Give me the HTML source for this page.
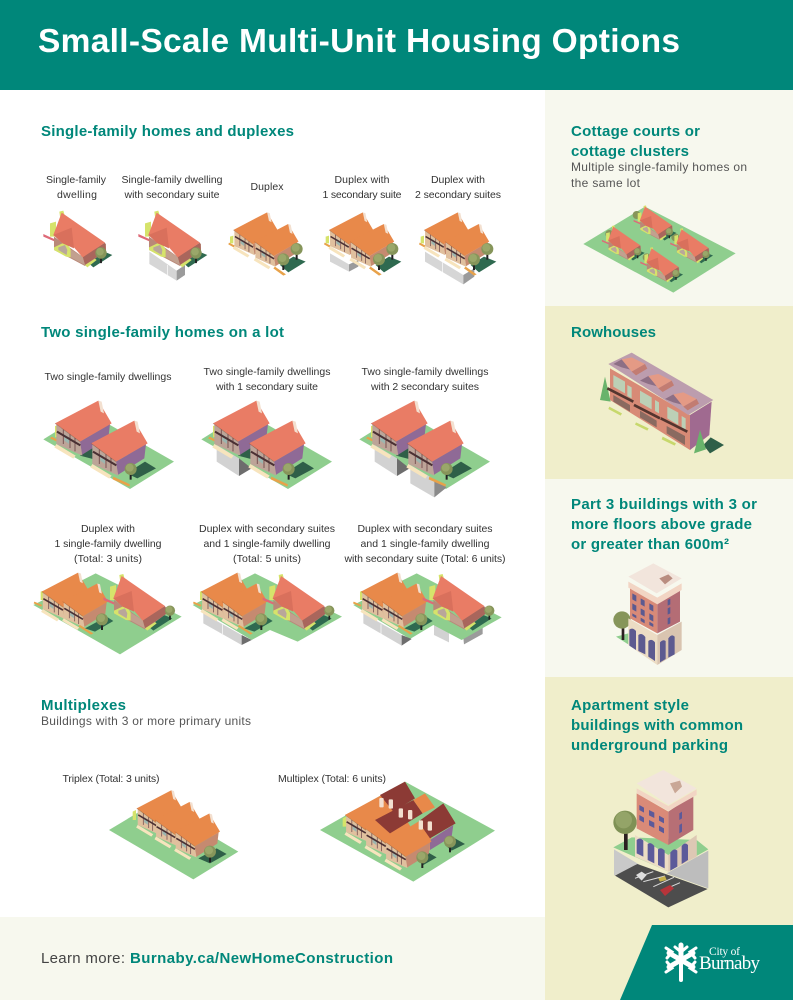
<!DOCTYPE html>
<html lang="en"><head><meta charset="utf-8"><title>Small-Scale Multi-Unit Housing Options</title>
<style>
html,body{margin:0;padding:0;background:#fff}
svg{display:block}
text{font-family:"Liberation Sans",sans-serif}
.l{font-size:10.5px;fill:#333;text-anchor:middle}
.h{font-size:15px;font-weight:700;fill:#00877a}
.s{font-size:12px;fill:#555}
.pk{--r:#e97c65;--w:#8f6a96;--g:#bda498}
.or{--r:#e8894a;--w:#c58a70;--g:#e0c09e}
</style></head><body>
<svg width="793" height="1000" viewBox="0 0 793 1000" xmlns="http://www.w3.org/2000/svg">
<defs>
<g id="t"><rect x="-3" y="0" width="6" height="32" fill="#222"/><circle r="18" fill="#86955a"/><circle cx="-3" cy="-4" r="12" fill="#9aa76a"/></g>
<g id="u">
<polygon points="75,55 165,2 160,45 80,95" fill="var(--w)"/>
<polygon points="4,3 75,55 82,97 4,62" fill="var(--g)"/>
<polygon points="28,32 42,42 42,62 28,52" fill="#9cb6b0"/>
<path d="M25 18V62M45 32V74M60 43V84" stroke="#7a5555" stroke-width="3" fill="none"/>
<path d="M6 25L76 66" stroke="#4a3033" stroke-width="6" fill="none"/>
<polygon points="4,62 62,97 55,106 -2,72" fill="#f7e4bd"/>
<polygon points="0,0 130,-68 170,0 75,55" fill="var(--r)"/>
<path d="M0 0L75 55" stroke="#000" stroke-opacity=".18" stroke-width="2.5"/>
<polygon points="130,-68 140,-65 147,-30 137,-35" fill="#f3e0d0"/>
</g>
<g id="sf">
<polygon points="165,300 215,272 247,285 190,322" fill="#2f6a50"/>
<polygon points="40,222 75,238 75,245 40,230" fill="#de6a78"/>
<polygon points="60,190 78,185 78,230 60,230" fill="#d6e36b"/>
<polygon points="88,155 100,152 105,170 90,170" fill="#d6e36b"/>
<polygon points="72,230 158,290 228,250 228,272 165,318 122,295 72,270" fill="#b98878"/>
<polygon points="158,290 225,248 228,272 165,315" fill="#a9665c"/>
<polygon points="122,268 158,290 165,315 122,292" fill="#c2a08f"/>
<polygon points="72,262 108,245 122,268 122,292 108,290 72,270" fill="#d6e36b"/>
<polygon points="85,262 105,255 112,270 110,285 85,270" fill="#b9a79a"/>
<polygon points="165,315 195,296 200,300 172,322" fill="#d6e36b"/>
<polygon points="95,158 225,248 158,292 132,262 98,250 70,225" fill="#e97c65"/>
<polygon points="125,203 70,225 98,250 132,265" fill="#d9705c"/>
</g>
<g id="sft"><use href="#sf"/><use href="#t" transform="translate(213 279)"/></g>
<g id="d" class="or">
<polygon points="15,95 25,92 25,115 15,115" fill="#d6e36b"/>
<polygon points="12,113 30,122 26,127 10,118" fill="#e8a24a"/>
<use href="#u" transform="translate(25 75) scale(.78)"/>
<use href="#u" transform="translate(88 110) scale(.78)"/>
<polygon points="150,185 183,208 175,212 145,190" fill="#e8a24a"/>
</g>
<g id="dt">
<polygon points="165,180 205,155 242,170 190,202" fill="#2f6a50"/>
<use href="#d"/>
<use href="#t" transform="translate(175 163)"/>
<use href="#t" transform="translate(215 132)"/>
</g>
<g id="two" class="pk">
<polygon points="150,197 225,150 200,210" fill="#2f5f48"/>
<polygon points="345,215 378,235 322,265 290,250" fill="#2f5f48"/>
<polygon points="75,108 85,105 85,140 75,142" fill="#d6e36b"/>
<polygon points="65,140 85,150 80,155 60,145" fill="#e8a24a"/>
<use href="#u" transform="translate(75 100)"/>
<polygon points="250,260 300,283 298,290 248,268" fill="#e8a24a"/>
<use href="#u" transform="translate(183 160)"/>
<use href="#t" transform="translate(302 237)"/>
</g>
<polygon id="lot" points="40,148 172,66 432,215 300,297" fill="#8fce8e"/>
<g id="r3h">
<polygon points="180,205 245,170 265,183 210,215" fill="#2f6a50"/>
<g class="or">
<polygon points="47,95 57,92 57,120 47,120" fill="#d6e36b"/>
<polygon points="28,125 52,135 48,140 26,130" fill="#e8a24a"/>
<use href="#u" transform="translate(50 95) scale(.84)"/>
<use href="#u" transform="translate(113 125) scale(.8)"/>
<polygon points="165,195 205,220 198,224 160,199" fill="#e8a24a"/>
</g>
<use href="#sf" transform="translate(195 -110)"/>
<use href="#t" transform="translate(231 178)"/>
<use href="#t" transform="translate(435 152) scale(.85)"/>
</g>
</defs>

<!-- backgrounds -->
<rect width="793" height="1000" fill="#fff"/>
<rect width="793" height="90" fill="#00877a"/>
<rect x="545" y="90" width="248" height="216" fill="#f7f8ee"/>
<rect x="545" y="306" width="248" height="173" fill="#f0eecb"/>
<rect x="545" y="479" width="248" height="198" fill="#f7f8ee"/>
<rect x="545" y="677" width="248" height="323" fill="#f0eecb"/>
<rect x="0" y="917" width="545" height="83" fill="#f7f8ee"/>
<polygon points="652,925 793,925 793,1000 620,1000" fill="#00877a"/>

<!-- titles -->
<text x="38" y="52" font-size="33.5" font-weight="700" fill="#fff" textLength="642">Small-Scale Multi-Unit Housing Options</text>
<text class="h" x="41" y="136" textLength="253">Single-family homes and duplexes</text>
<text class="h" x="41" y="337" textLength="243">Two single-family homes on a lot</text>
<text class="h" x="41" y="710" textLength="85">Multiplexes</text>
<text class="s" x="41" y="725" textLength="210">Buildings with 3 or more primary units</text>
<text class="h" x="571" y="136" textLength="129">Cottage courts or</text>
<text class="h" x="571" y="156" textLength="118">cottage clusters</text>
<text class="s" x="571" y="171" textLength="176">Multiple single-family homes on</text>
<text class="s" x="571" y="187" textLength="69">the same lot</text>
<text class="h" x="571" y="337" textLength="85">Rowhouses</text>
<text class="h" x="571" y="509" textLength="186">Part 3 buildings with 3 or</text>
<text class="h" x="571" y="529" textLength="181">more floors above grade</text>
<text class="h" x="571" y="549" textLength="158">or greater than 600m²</text>
<text class="h" x="571" y="710" textLength="118">Apartment style</text>
<text class="h" x="571" y="730" textLength="172">buildings with common</text>
<text class="h" x="571" y="750" textLength="157">underground parking</text>
<text x="41" y="963" font-size="15" fill="#444" textLength="84">Learn more:</text>
<text x="130" y="963" font-size="15" font-weight="700" fill="#00877a" textLength="263">Burnaby.ca/NewHomeConstruction</text>

<!-- labels -->
<text class="l" x="76" y="183" textLength="60">Single-family</text>
<text class="l" x="77" y="198" textLength="40">dwelling</text>
<text class="l" x="172" y="183" textLength="101">Single-family dwelling</text>
<text class="l" x="172" y="198" textLength="95">with secondary suite</text>
<text class="l" x="267" y="190" textLength="33">Duplex</text>
<text class="l" x="362" y="183" textLength="55">Duplex with</text>
<text class="l" x="362" y="198" textLength="79">1 secondary suite</text>
<text class="l" x="458" y="183" textLength="54">Duplex with</text>
<text class="l" x="458" y="198" textLength="86">2 secondary suites</text>
<text class="l" x="108" y="380" textLength="127">Two single-family dwellings</text>
<text class="l" x="267" y="375" textLength="127">Two single-family dwellings</text>
<text class="l" x="267" y="390" textLength="102">with 1 secondary suite</text>
<text class="l" x="425" y="375" textLength="127">Two single-family dwellings</text>
<text class="l" x="425" y="390" textLength="108">with 2 secondary suites</text>
<text class="l" x="108" y="532" textLength="54">Duplex with</text>
<text class="l" x="108" y="547" textLength="107">1 single-family dwelling</text>
<text class="l" x="108" y="562" textLength="68">(Total: 3 units)</text>
<text class="l" x="267" y="532" textLength="136">Duplex with secondary suites</text>
<text class="l" x="267" y="547" textLength="127">and 1 single-family dwelling</text>
<text class="l" x="267" y="562" textLength="68">(Total: 5 units)</text>
<text class="l" x="425" y="532" textLength="135">Duplex with secondary suites</text>
<text class="l" x="425" y="547" textLength="129">and 1 single-family dwelling</text>
<text class="l" x="425" y="562" textLength="161">with secondary suite (Total: 6 units)</text>
<text class="l" x="111" y="782" textLength="97">Triplex (Total: 3 units)</text>
<text class="l" x="332" y="782" textLength="108">Multiplex (Total: 6 units)</text>

<!-- row 1 -->
<g transform="translate(30 160) scale(.3333)"><use href="#sf"/><use href="#t" transform="translate(213 279) scale(.95)"/></g>
<g transform="translate(125 160) scale(.3333)">
<polygon points="73,275 155,332 155,362 73,312" fill="#d6d6d6"/>
<polygon points="155,332 180,315 180,345 155,362" fill="#9b9b9b"/>
<path d="M127 315V350" stroke="#fff" stroke-width="2"/>
<use href="#sf"/><use href="#t" transform="translate(213 279) scale(.95)"/>
</g>
<g transform="translate(225 205) scale(.3333)"><use href="#dt"/></g>
<g transform="translate(320.67 205) scale(.3333)">
<polygon points="28,145 85,178 85,200 28,170" fill="#d6d6d6"/>
<polygon points="85,178 113,165 113,185 85,200" fill="#9b9b9b"/>
<use href="#dt"/>
</g>
<g transform="translate(415.67 205) scale(.3333)">
<polygon points="28,140 143,210 143,238 28,170" fill="#d6d6d6"/>
<polygon points="143,210 176,190 176,215 143,238" fill="#9b9b9b"/>
<path d="M81 172V205" stroke="#fff" stroke-width="2"/>
<use href="#dt"/>
</g>

<!-- row 2 -->
<g transform="translate(30 390) scale(.3333)"><use href="#lot"/><use href="#two"/></g>
<g transform="translate(188 390) scale(.3333)">
<use href="#lot"/>
<polygon points="86,165 153,205 153,258 86,215" fill="#d2d2d2"/>
<polygon points="153,205 191,235 153,258" fill="#6d6d6d"/>
<use href="#two"/>
</g>
<g transform="translate(346 390) scale(.3333)">
<use href="#lot"/>
<polygon points="86,165 153,205 153,258 86,215" fill="#d2d2d2"/>
<polygon points="153,205 191,235 153,258" fill="#6d6d6d"/>
<polygon points="193,225 265,268 265,322 193,280" fill="#d2d2d2"/>
<polygon points="265,268 302,292 265,322" fill="#8a8a8a"/>
<use href="#two"/>
</g>

<!-- row 3 -->
<g transform="translate(25 560) scale(.3333)">
<polygon points="25,135 212,40 470,170 285,283" fill="#8fce8e"/>
<use href="#r3h"/>
</g>
<g transform="translate(184.33 560) scale(.3333)">
<polygon points="25,135 212,40 473,170 340,245 257,210 202,240" fill="#8fce8e"/>
<polygon points="57,160 172,225 172,255 57,190" fill="#d2d2d2"/>
<polygon points="172,225 202,240 172,255" fill="#6d6d6d"/>
<path d="M115 193V222" stroke="#fff" stroke-width="2"/>
<use href="#r3h"/>
</g>
<g transform="translate(350 560) scale(.3333)">
<polygon points="252,196 297,218 297,247 252,225" fill="#d2d2d2"/>
<polygon points="340,233 398,203 398,222 342,253" fill="#9b9b9b"/>
<polygon points="10,135 200,40 455,172 335,240 250,195 180,237" fill="#8fce8e"/>
<polygon points="40,160 155,225 155,257 40,190" fill="#d2d2d2"/>
<polygon points="155,225 185,237 155,257" fill="#6d6d6d"/>
<path d="M93 193V222" stroke="#fff" stroke-width="2"/>
<use href="#r3h" transform="translate(-17 0)"/>
</g>

<!-- triplex -->
<g transform="translate(100 780) scale(.3333)">
<polygon points="27,150 165,67 415,215 280,298" fill="#8fce8e"/>
<polygon points="295,235 350,205 380,222 330,250" fill="#2f5f48"/>
<polygon points="98,95 108,90 108,120 98,120" fill="#d6e36b"/>
<g class="or">
<use href="#u" transform="translate(110 85) scale(.8)"/>
<use href="#u" transform="translate(165 120) scale(.8)"/>
<use href="#u" transform="translate(224 155) scale(.8)"/>
</g>
<use href="#t" transform="translate(330 215)"/>
</g>

<!-- multiplex -->
<g transform="translate(310 770) scale(.3333)">
<polygon points="30,180 285,35 555,182 310,335" fill="#8fce8e"/>
<polygon points="315,265 350,245 380,262 340,285" fill="#2f5f48"/>
<polygon points="405,225 435,205 465,222 425,242" fill="#2f5f48"/>
<polygon points="98,145 108,140 108,170 98,170" fill="#d6e36b"/>
<polygon points="285,250 360,205 360,240 300,280" fill="#d48f75"/>
<polygon points="360,210 430,165 425,200 360,240" fill="#8f6a96"/>
<g class="or">
<use href="#u" transform="translate(105 135) scale(.82)"/>
<use href="#u" transform="translate(165 175) scale(.82)"/>
<use href="#u" transform="translate(225 215) scale(.82)"/>
</g>
<polygon points="105,135 215,75 255,125 165,175" fill="#e8894a"/>
<polygon points="210,75 285,35 315,85 250,125" fill="#8c3a35"/>
<polygon points="165,175 195,150 240,190 225,215" fill="#e8894a"/>
<polygon points="195,150 310,90 338,130 240,190" fill="#8c3a35"/>
<polygon points="310,90 345,70 375,112 338,130" fill="#e8894a"/>
<polygon points="225,215 330,152 365,205 285,250" fill="#e8894a"/>
<polygon points="325,155 400,100 437,160 360,205" fill="#8c3a35"/>
<g fill="#f3e0d0">
<rect x="208" y="84" width="13" height="28" rx="3"/><rect x="236" y="88" width="13" height="28" rx="3"/>
<rect x="266" y="115" width="13" height="28" rx="3"/><rect x="294" y="120" width="13" height="28" rx="3"/>
<rect x="326" y="151" width="13" height="28" rx="3"/><rect x="353" y="154" width="13" height="28" rx="3"/>
</g>
<use href="#t" transform="translate(337 262)"/>
<use href="#t" transform="translate(420 215)"/>
</g>

<!-- cottage -->
<g transform="translate(570 200) scale(.3333)">
<polygon points="40,132 225,20 497,160 310,278" fill="#8fce8e"/>
<circle cx="200" cy="45" r="12" fill="#86955a"/><circle cx="118" cy="102" r="12" fill="#86955a"/><circle cx="316" cy="112" r="12" fill="#86955a"/><circle cx="230" cy="172" r="12" fill="#86955a"/>
<use href="#sft" transform="translate(166 -78) scale(.62)"/>
<use href="#sft" transform="translate(71 -18) scale(.62)"/>
<use href="#sft" transform="translate(276 -10) scale(.62)"/>
<use href="#sft" transform="translate(186 47) scale(.62)"/>
</g>

<!-- rowhouses -->
<g transform="translate(590 350) scale(.3333)">
<polygon points="340,285 362,262 402,285 360,310" fill="#2f5f48"/>
<polygon points="45,80 30,150 62,155" fill="#69b36b"/>
<polygon points="60,55 300,195 300,300 60,150" fill="#d88a76"/>
<polygon points="300,195 365,155 358,255 300,300" fill="#a06a90"/>
<polygon points="55,42 125,8 370,150 295,195" fill="#bc9dae"/>
<g id="rb">
<polygon points="70,42 95,28 125,60 95,52" fill="#8d6f85"/>
<polygon points="95,28 125,22 165,42 125,65" fill="#e49a85"/>
<polygon points="125,65 165,42 172,56 138,76" fill="#c27c72"/>
</g>
<use href="#rb" transform="translate(80 50)"/>
<use href="#rb" transform="translate(155 105)"/>
<g fill="#bcd0b6">
<polygon points="70,75 105,95 105,130 70,110"/><polygon points="150,122 185,142 185,178 150,158"/><polygon points="232,170 265,188 265,225 232,205"/>
<polygon points="112,105 125,112 125,145 112,138"/><polygon points="195,150 207,157 207,190 195,183"/><polygon points="275,198 287,205 287,240 275,233"/>
</g>
<g stroke="#54352f" stroke-width="8" fill="none">
<path d="M52 115L130 155"/><path d="M132 165L210 205"/><path d="M212 205L292 245"/>
</g>
<g fill="#8a6a60">
<polygon points="70,135 120,165 120,185 70,155"/><polygon points="150,182 200,212 200,232 150,202"/><polygon points="230,228 285,258 285,285 230,250"/>
</g>
<g fill="#c7d86c">
<polygon points="58,170 96,190 92,197 55,177"/><polygon points="138,217 176,235 172,242 135,224"/><polygon points="218,260 258,280 254,287 215,268"/>
</g>
<polygon points="330,240 312,310 348,298" fill="#69b36b"/>
</g>

<!-- part 3 -->
<g transform="translate(600 555) scale(.3333)">
<polygon points="48,245 85,235 85,268 80,265" fill="#8fce8e"/>
<rect x="65" y="215" width="8" height="40" fill="#2b2020"/>
<circle cx="66" cy="195" r="26" fill="#86955a"/>
<polygon points="85,190 172,240 172,330 85,270" fill="#ecdcc4"/>
<polygon points="172,240 245,200 245,285 172,330" fill="#d9c4b0"/>
<polygon points="90,95 172,140 172,235 90,190" fill="#d88a78"/>
<polygon points="172,140 240,100 240,200 172,235" fill="#b46d75"/>
<polygon points="85,80 172,128 245,85 245,105 172,148 85,98" fill="#f2d5c4"/>
<polygon points="85,65 160,25 245,70 170,115" fill="#f2e5dc"/>
<polygon points="178,70 205,58 218,70 195,88" fill="#b98d80"/>
<g fill="#5c5a90">
<polygon points="97,115 109,122 109,140 97,133"/><polygon points="122,130 134,137 134,155 122,148"/><polygon points="148,145 160,152 160,170 148,163"/>
<polygon points="97,145 109,152 109,170 97,163"/><polygon points="122,160 134,167 134,185 122,178"/><polygon points="148,175 160,182 160,200 148,193"/>
<polygon points="97,175 109,182 109,190 97,183"/><polygon points="122,188 134,195 134,205 122,198"/><polygon points="148,200 160,207 160,216 148,210"/>
<polygon points="203,135 211,131 211,148 203,152"/><polygon points="203,160 211,156 211,175 203,179"/><polygon points="203,190 211,186 211,205 203,209"/>
<path d="M88 224Q98 216 108 228V285L88 272Z"/><path d="M115 240Q125 232 136 246V298L115 288Z"/><path d="M145 258Q155 250 165 262V318L145 305Z"/>
<path d="M180 262Q190 252 197 258V312L180 322Z"/><path d="M205 250Q215 235 224 245V298L205 308Z"/>
</g>
</g>

<!-- apartment -->
<g transform="translate(600 760) scale(.3333)">
<polygon points="42,268 120,315 42,347" fill="#c9c9c9"/>
<polygon points="200,340 325,272 325,385" fill="#bdbdbd"/>
<polygon points="45,347 112,312 323,387 205,442" fill="#4d4d4d"/>
<polygon points="40,262 95,232 290,240 325,268 205,335" fill="#8fce8e"/>
<path d="M105 355L160 335M130 365L195 348M160 380L222 352M185 392L240 368" stroke="#ddd" stroke-width="3" fill="none"/>
<polygon points="108,345 125,335 140,345 125,362" fill="#ddd"/>
<polygon points="175,355 195,348 200,360 180,365" fill="#c7b24a"/>
<polygon points="180,390 210,375 222,385 195,408" fill="#b7343a"/>
<rect x="72" y="220" width="11" height="50" fill="#2b2020"/>
<circle cx="75" cy="187" r="35" fill="#7f9155"/><circle cx="71" cy="180" r="25" fill="#94a468"/>
<polygon points="105,225 205,285 290,225 290,290 205,335 105,290" fill="#ecdcc4"/>
<polygon points="205,285 290,225 290,290 205,335" fill="#ddc8b4"/>
<polygon points="110,100 205,155 205,255 110,205" fill="#d98a78"/>
<polygon points="205,155 280,105 280,210 205,255" fill="#b76f75"/>
<polygon points="110,85 205,138 290,88 290,105 205,153 110,100" fill="#f2d5c4"/>
<polygon points="110,70 190,30 290,85 205,135" fill="#f2e5dc"/>
<polygon points="210,70 240,62 246,80 225,100" fill="#c9a796"/>
<g fill="#5c5a9a">
<polygon points="118,135 132,143 132,158 118,150"/><polygon points="147,150 163,158 163,174 147,166"/><polygon points="177,167 192,175 192,190 177,182"/>
<polygon points="118,165 132,173 132,188 118,180"/><polygon points="147,180 163,188 163,204 147,196"/><polygon points="177,197 192,205 192,220 177,212"/>
<polygon points="238,160 246,155 246,175 238,180"/><polygon points="238,195 246,190 246,215 238,220"/>
<path d="M110 240Q120 230 130 242V290L110 280Z"/><path d="M143 252Q152 245 163 258V310L143 300Z"/><path d="M174 268Q184 260 194 272V325L174 315Z"/>
<path d="M211 278Q222 262 232 272V320L211 332Z"/><path d="M245 258Q255 245 264 255V300L245 312Z"/>
</g>
</g>

<!-- logo -->
<g stroke="#fff" stroke-linecap="round" fill="none">
<path d="M681 960V980" stroke-width="4"/>
<g stroke-width="5">
<path d="M681 960V945M681 960L669 953M681 960L693 953M681 960L669 967M681 960L693 967"/>
</g>
<g stroke-width="3">
<path d="M675 947L681 952L687 947M667 958L672 952L666 948M695 958L690 952L696 948M667 962L672 968L666 972M695 962L690 968L696 972"/>
</g>
</g>
<text x="709" y="955" font-size="11.5" fill="#fff" style="font-family:'Liberation Serif',serif" textLength="31">City of</text>
<text x="699" y="969" font-size="19" fill="#fff" style="font-family:'Liberation Serif',serif" textLength="61">Burnaby</text>
</svg>
</body></html>
